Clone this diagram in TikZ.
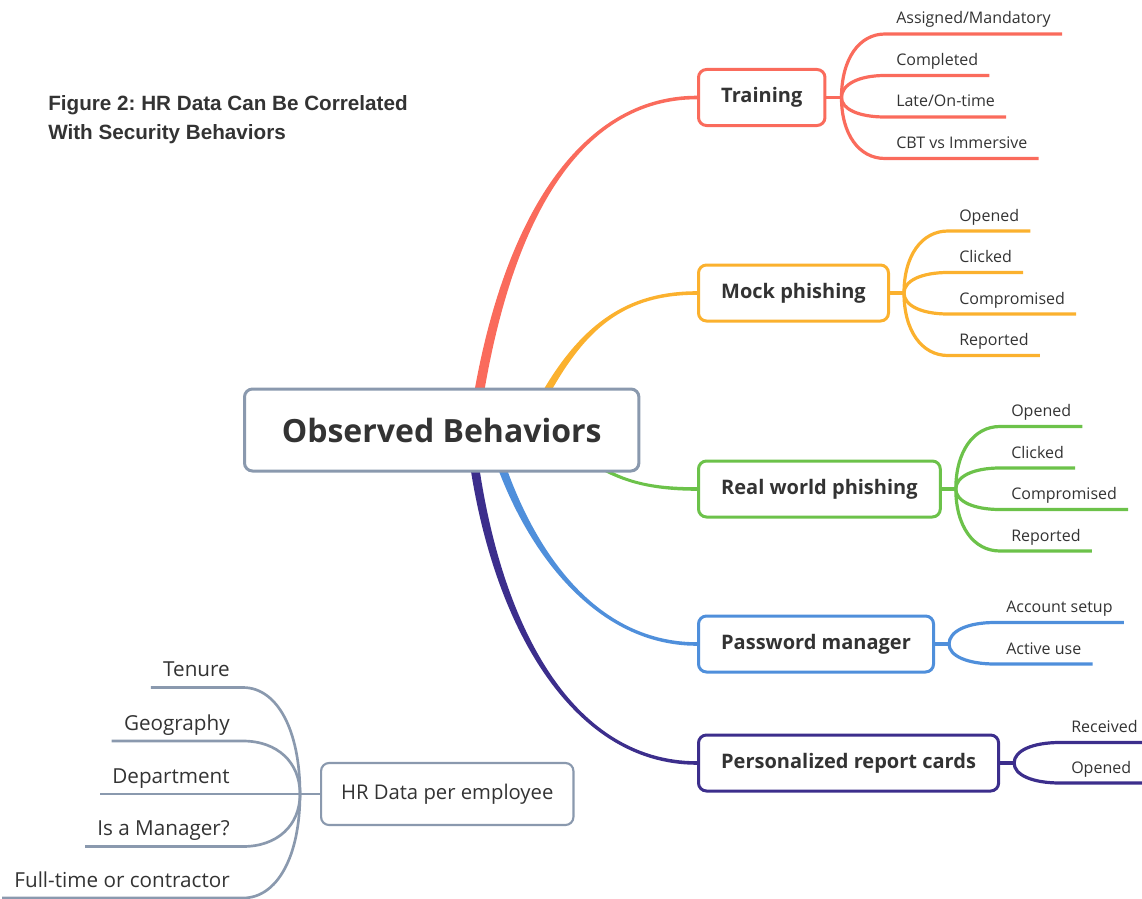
\documentclass[tikz,border=0pt]{standalone}
\usepackage{fontspec}
\setmainfont{Open Sans}
\newfontfamily\titlefont{Liberation Sans}
\usetikzlibrary{calc,backgrounds}

\definecolor{cred}{HTML}{FA6B5C}
\definecolor{corange}{HTML}{FBB12E}
\definecolor{cgreen}{HTML}{6CC24A}
\definecolor{cblue}{HTML}{4F8FDB}
\definecolor{cpurple}{HTML}{3C2E8C}
\definecolor{cgray}{HTML}{8A99AE}
\definecolor{ink}{HTML}{333333}

% tapered main branch: #1 colour, #2 start, #3 c1, #4 c2, #5 end,
% #6 half width at start (sideways), #7 signed half width at end (vertical)
\newcommand\taperbranch[7]{%
  \fill[#1] ($(#2)+(-#6,0)$) .. controls ($(#3)+(-#6,0)$) and ($(#4)+(0,#7)$) ..
    ($(#5)+(0,#7)$) -- ($(#5)+(0,-#7)$) .. controls ($(#4)+(0,-#7)$) and ($(#3)+(#6,0)$) ..
    ($(#2)+(#6,0)$) -- cycle;}

% right-hand leaf: #1 line style, #2 fork point, #3 name, #4 line start x, #5 line y, #6 text
\newcommand\leaf[6]{%
  \coordinate (#3a) at (#4,#5);
  \node[leaftext, anchor=base west] (#3) at ($(#3a)+(11,-10)$) {#6};
  \draw[#1] (#2) .. controls ($(#2)!0.6!(#2|-#3a)$) and ($(#2|-#3a)!0.4!(#3a)$) ..
    (#3a) -- ($(#3a-|#3.east)+(11,0)$);}

% left-hand leaf of the HR node
\newcommand\hrleaf[5]{%
  \coordinate (#2a) at (#3,#4);
  \node[hrtext, anchor=base east] (#2) at ($(#2a)+(-13,-11)$) {#5};
  \draw[#1] (hb) .. controls ($(hb)!0.6!(hb|-#2a)$) and ($(hb|-#2a)!0.4!(#2a)$) ..
    (#2a) -- ($(#2a-|#2.west)+(-12,0)$);}

\begin{document}
\begin{tikzpicture}[x=0.75pt,y=-0.75pt,
  branchbox/.style={draw=#1, line width=2.25pt, rounded corners=6pt, fill=white,
    minimum height=42pt, inner xsep=17pt, anchor=west, text=ink,
    font=\fontsize{15}{18}\selectfont\bfseries},
  twig/.style={draw=#1, line width=2.4pt},
  leaftext/.style={inner sep=0pt, text=ink, font=\fontsize{12}{14}\selectfont},
  hrtext/.style={inner sep=0pt, text=ink, font=\fontsize{15.5}{18}\selectfont},
]
\useasboundingbox (0,0) rectangle (1142,899);

% title
\node[anchor=north west, align=left, inner sep=0pt, text=ink,
  font=\titlefont\bfseries\frenchspacing\fontsize{15.5}{21.75}\selectfont] (title) at (48,95)
  {Figure 2: HR Data Can Be Correlated\\With Security Behaviors};

% central topic
\node[draw=cgray, line width=2.25pt, rounded corners=6pt, fill=white, anchor=west,
  minimum height=61.5pt, inner xsep=28pt, text=ink,
  font=\fontsize{24}{28}\selectfont\bfseries] (ob) at (243,430) {Observed Behaviors};

% main topics
\node[branchbox=cred]    (train) at (697,97.5) {Training};
\node[branchbox=corange] (mock)  at (697,293)  {Mock phishing};
\node[branchbox=cgreen]  (real)  at (697,489)  {Real world phishing};
\node[branchbox=cblue]   (pass)  at (697,644)  {Password manager};
\node[branchbox=cpurple] (rep)   at (697,763)  {Personalized report cards};

% HR node
\node[draw=cgray, line width=1.6pt, rounded corners=6pt, fill=white, anchor=west,
  minimum height=46.5pt, inner xsep=15pt, text=ink,
  font=\fontsize{15.2}{18}\selectfont] (hr) at (320,794) {HR Data per employee};

% tapered branches from the central topic
\begin{scope}[on background layer]
  \coordinate (rs) at (472,440);  \coordinate (os) at (522,440);
  \coordinate (gs) at (565,440);  \coordinate (bs) at (490,430);
  \coordinate (ps) at (470,430);
  \taperbranch{cred}{rs}{500,220}{580,97.5}{train.west}{5}{-1.8}
  \taperbranch{corange}{os}{568,340}{612,293}{mock.west}{4.5}{-1.8}
  \taperbranch{cgreen}{gs}{605,478}{640,489}{real.west}{4}{1.8}
  \taperbranch{cblue}{bs}{520,540}{590,644}{pass.west}{4.5}{1.8}
  \taperbranch{cpurple}{ps}{490,620}{570,763}{rep.west}{4.5}{1.8}
\end{scope}

% Training
\coordinate (tb) at ($(train.east)+(15,0)$);
\draw[twig=cred] (train.east) -- (tb);
\leaf{twig=cred}{tb}{t1}{885}{34}{Assigned/Mandatory}
\leaf{twig=cred}{tb}{t2}{885}{75.5}{Completed}
\leaf{twig=cred}{tb}{t3}{885}{117}{Late/On-time}
\leaf{twig=cred}{tb}{t4}{885}{158.5}{CBT vs Immersive}

% Mock phishing
\coordinate (mb) at ($(mock.east)+(14,0)$);
\draw[twig=corange] (mock.east) -- (mb);
\leaf{twig=corange}{mb}{m1}{948}{231}{Opened}
\leaf{twig=corange}{mb}{m2}{948}{272.5}{Clicked}
\leaf{twig=corange}{mb}{m3}{948}{314}{Compromised}
\leaf{twig=corange}{mb}{m4}{948}{355.5}{Reported}

% Real world phishing
\coordinate (gb) at ($(real.east)+(14,0)$);
\draw[twig=cgreen] (real.east) -- (gb);
\leaf{twig=cgreen}{gb}{g1}{1000}{426.5}{Opened}
\leaf{twig=cgreen}{gb}{g2}{1000}{468}{Clicked}
\leaf{twig=cgreen}{gb}{g3}{1000}{509.5}{Compromised}
\leaf{twig=cgreen}{gb}{g4}{1000}{551}{Reported}

% Password manager
\coordinate (pb) at ($(pass.east)+(14,0)$);
\draw[twig=cblue] (pass.east) -- (pb);
\leaf{twig=cblue}{pb}{p1}{995}{622.5}{Account setup}
\leaf{twig=cblue}{pb}{p2}{995}{664}{Active use}

% Personalized report cards
\coordinate (cb) at ($(rep.east)+(14,0)$);
\draw[twig=cpurple] (rep.east) -- (cb);
\leaf{twig=cpurple}{cb}{c1}{1060}{742.5}{Received}
\leaf{twig=cpurple}{cb}{c2}{1060}{783}{Opened}

% HR data
\coordinate (hb) at ($(hr.west)+(-20,0)$);
\draw[twig=cgray, line width=2pt] (hr.west) -- (hb);
\hrleaf{twig=cgray, line width=2pt}{h1}{243}{687.5}{Tenure}
\hrleaf{twig=cgray, line width=2pt}{h2}{243}{741}{Geography}
\hrleaf{twig=cgray, line width=2pt}{h3}{243}{794}{Department}
\hrleaf{twig=cgray, line width=2pt}{h4}{243}{846.5}{Is a Manager?}
\hrleaf{twig=cgray, line width=2pt}{h5}{243}{898}{Full-time or contractor}
\end{tikzpicture}
\end{document}
